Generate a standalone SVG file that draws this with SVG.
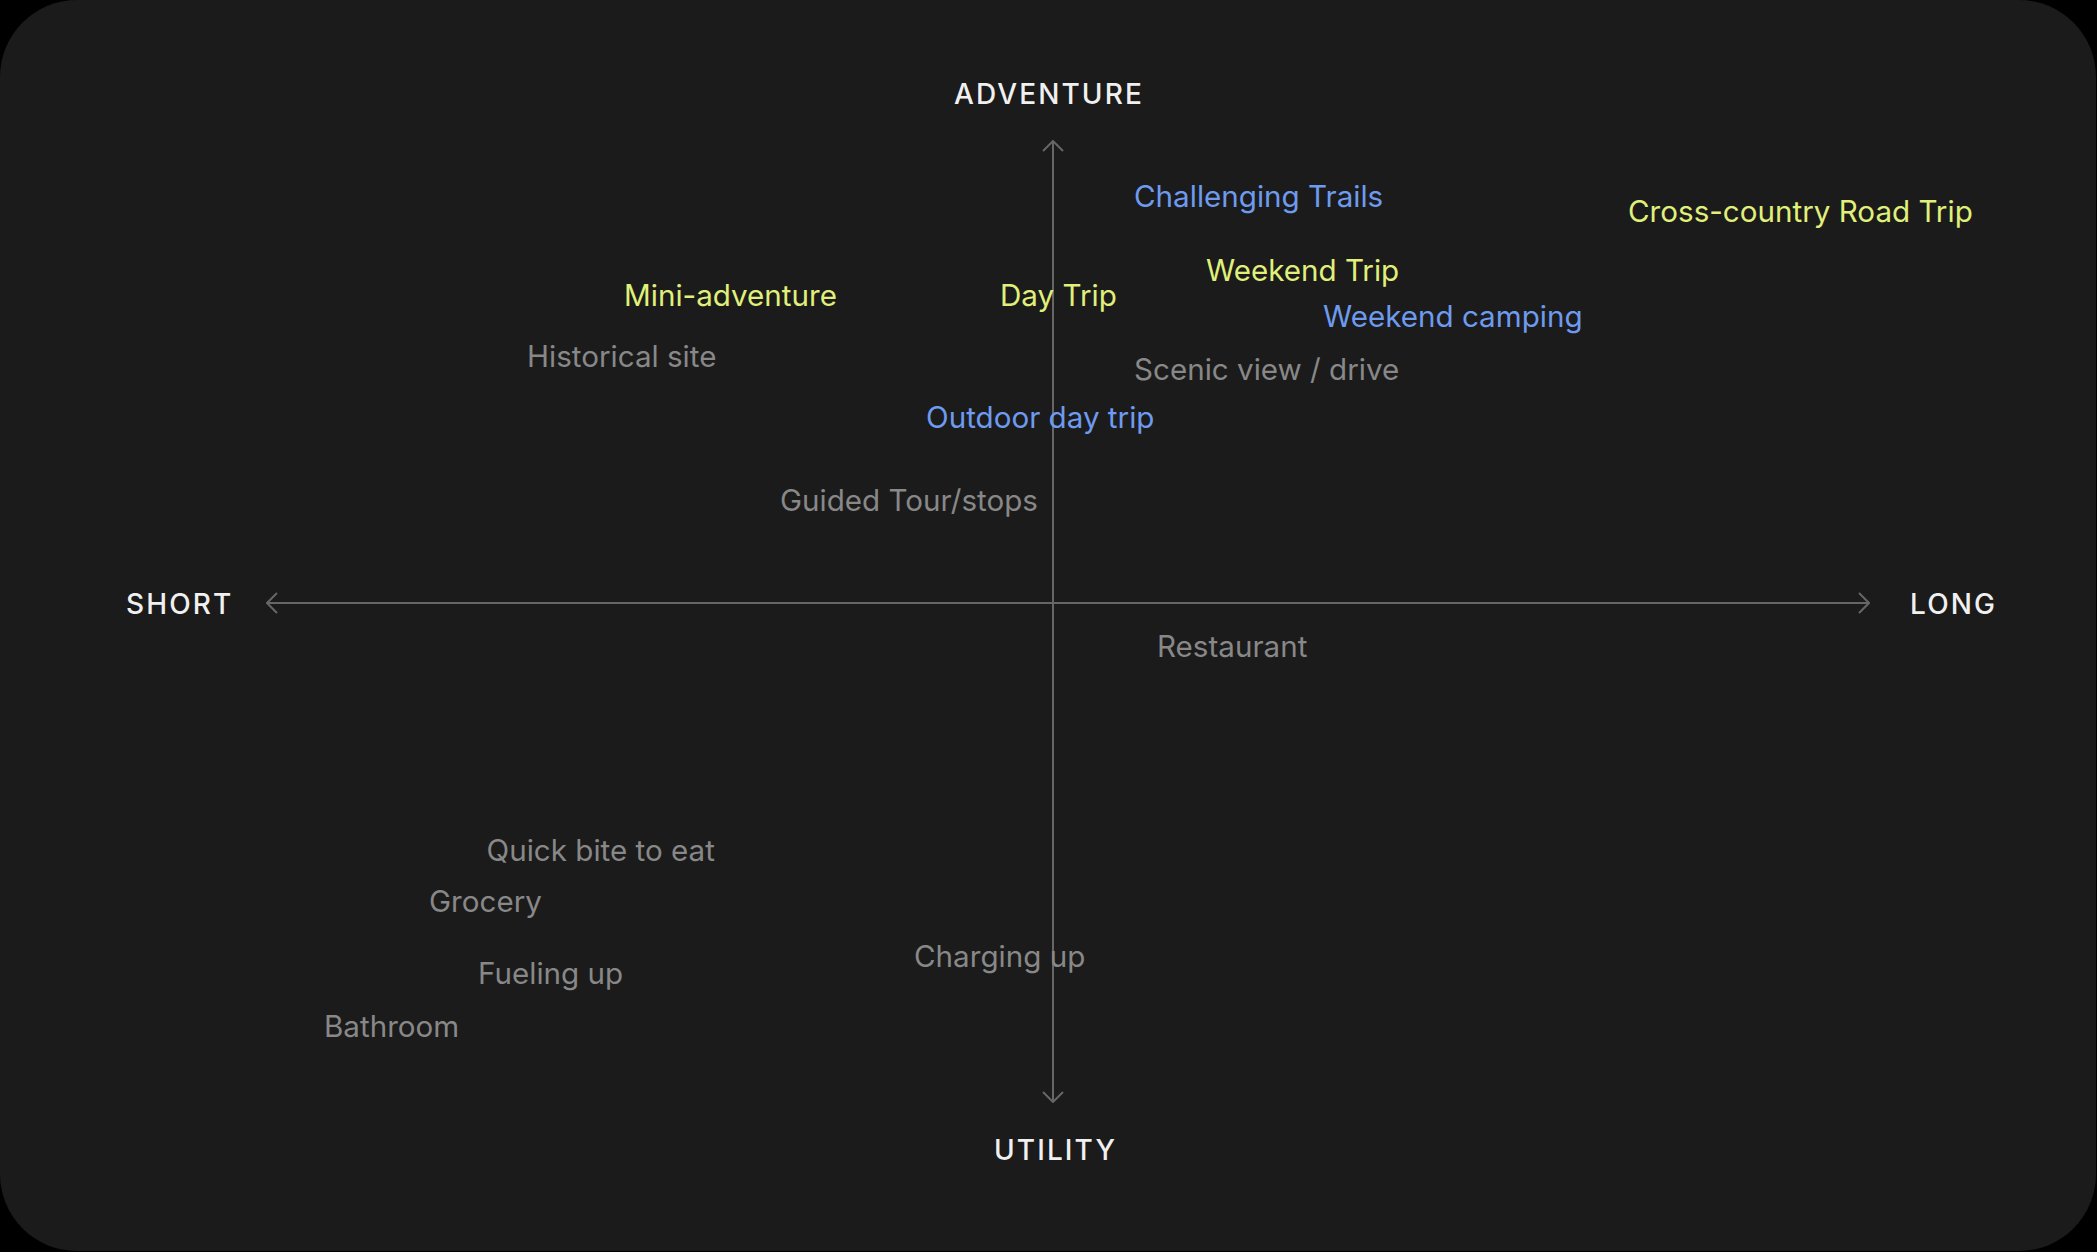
<svg xmlns="http://www.w3.org/2000/svg" width="2097" height="1252" viewBox="0 0 2097 1252">
  <defs>
    <style>
      .lbl { font-family: Inter, "Noto Sans", "Liberation Sans", sans-serif; font-size: 29.6px; }
      .axis-lbl { font-family: Inter, "Noto Sans", "Liberation Sans", sans-serif; font-size: 28px; fill: #f0f0f0; letter-spacing: 2.1px; font-weight: 500; }
      .y { fill: #e0f07a; }
      .b { fill: #6e9bef; }
      .g { fill: #888888; }
      .axis { stroke: #666666; stroke-width: 2; fill: none; }
    </style>
    <marker id="arrow" viewBox="0 0 12 22" refX="11" refY="11" markerWidth="12" markerHeight="22" markerUnits="userSpaceOnUse" orient="auto">
      <path d="M1,1 L11,11 L1,21" fill="none" stroke="#666666" stroke-width="2"/>
    </marker>
  </defs>
  <rect x="0" y="0" width="2097" height="1252" fill="#000000"/>
  <rect x="0" y="0" width="2096" height="1251" rx="77" ry="77" fill="#1b1b1b"/>

  <g id="connectors">
    <line class="axis" x1="1053" y1="1102" x2="1053" y2="141" marker-end="url(#arrow)"/>
    <line class="axis" x1="1053" y1="141" x2="1053" y2="1102" marker-end="url(#arrow)"/>
    <line class="axis" x1="1869" y1="603" x2="267" y2="603" marker-end="url(#arrow)"/>
    <line class="axis" x1="267" y1="603" x2="1869" y2="603" marker-end="url(#arrow)"/>
  </g>

  <g id="axis-adventure"><text class="axis-lbl" x="954" y="103.5">ADVENTURE</text></g>
  <g id="axis-utility"><text class="axis-lbl" x="994" y="1160">UTILITY</text></g>
  <g id="axis-short"><text class="axis-lbl" x="126" y="614">SHORT</text></g>
  <g id="axis-long"><text class="axis-lbl" x="1910" y="613.5">LONG</text></g>

  <g id="challenging-trails"><text class="lbl b" x="1134" y="206.5">Challenging Trails</text></g>
  <g id="cross-country"><text class="lbl y" x="1628" y="222.3">Cross-country Road Trip</text></g>
  <g id="weekend-trip"><text class="lbl y" x="1206" y="280.5">Weekend Trip</text></g>
  <g id="mini-adventure"><text class="lbl y" x="624" y="305.5">Mini-adventure</text></g>
  <g id="day-trip"><text class="lbl y" x="1000" y="305.5">Day Trip</text></g>
  <g id="weekend-camping"><text class="lbl b" x="1323" y="327.3">Weekend camping</text></g>
  <g id="historical-site"><text class="lbl g" x="527" y="366.5">Historical site</text></g>
  <g id="scenic-view"><text class="lbl g" x="1134" y="380.3">Scenic view / drive</text></g>
  <g id="outdoor-day-trip"><text class="lbl b" x="926" y="428.3">Outdoor day trip</text></g>
  <g id="guided-tour"><text class="lbl g" x="780" y="510.5">Guided Tour/stops</text></g>
  <g id="restaurant"><text class="lbl g" x="1157" y="657.3">Restaurant</text></g>
  <g id="quick-bite"><text class="lbl g" x="486.5" y="861">Quick bite to eat</text></g>
  <g id="grocery"><text class="lbl g" x="429" y="912">Grocery</text></g>
  <g id="charging-up"><text class="lbl g" x="914" y="966.5">Charging up</text></g>
  <g id="fueling-up"><text class="lbl g" x="478" y="984">Fueling up</text></g>
  <g id="bathroom"><text class="lbl g" x="324" y="1036.5">Bathroom</text></g>
</svg>
